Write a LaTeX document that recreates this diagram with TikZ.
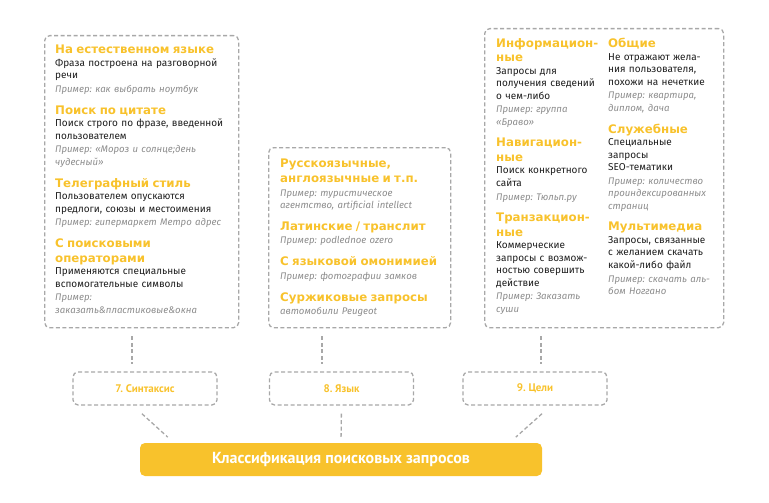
\documentclass[tikz,border=0pt]{standalone}
\usepackage{fontspec}
\setmainfont{Fira Sans}
\newfontfamily\headfont{DejaVu Sans}
\newfontfamily\tagfont{PT Sans}
\usetikzlibrary{positioning}
\definecolor{qyellow}{HTML}{F8C22C}
\definecolor{qgrey}{HTML}{A8A8A8}
\definecolor{qexgrey}{HTML}{8C8C8C}
\definecolor{qtext}{HTML}{1E1E1E}
\frenchspacing
\newcommand{\qhead}[1]{{\fontsize{11.8}{14.5}\selectfont\headfont\bfseries\color{qyellow}#1\par}}
\newcommand{\qex}[1]{\par{\vspace{1.2pt}\fontsize{9.6}{12.5}\selectfont\itshape\color{qexgrey}#1\par}}
\begin{document}
\begin{tikzpicture}[x=1pt,y=-1pt,
    qbox/.style={draw=qgrey,line width=1.3pt,dash pattern=on 4pt off 2.5pt,rounded corners=5pt,inner sep=0pt,anchor=north west},
    qsec/.style={anchor=north west,inner sep=0pt,text width=#1,align=left,text=qtext,font=\fontsize{10}{12.5}\selectfont},
    qsec/.default=178pt,
    qtag/.style={qbox,anchor=center,minimum width=144pt,minimum height=33pt,text=qyellow,font=\fontsize{11}{13}\selectfont\tagfont\bfseries},
    link/.style={draw=qgrey,line width=1.3pt,dash pattern=on 4pt off 2.5pt},
    node distance=10.5pt]
    \useasboundingbox (0,0) rectangle (769,503);
    % dashed frames
    \node[qbox,minimum width=194pt,minimum height=292pt] (synbox) at (44,35) {};
    \node[qbox,minimum width=182pt,minimum height=180pt] (langbox) at (268,147) {};
    \node[qbox,minimum width=239pt,minimum height=299pt] (goalbox) at (484,28) {};
    % syntax
    \node[qsec] (nat) at (55,45) {\qhead{На естественном языке}Фраза построена на разговорной\\речи\qex{Пример: как выбрать ноутбук}};
    \node[qsec,below=of nat.south west,anchor=north west] (cite) {\qhead{Поиск по цитате}Поиск строго по фразе, введенной\\пользователем\qex{Пример: «Мороз и солнце;день\\чудесный»}};
    \node[qsec,below=of cite.south west,anchor=north west] (tele) {\qhead{Телеграфный стиль}Пользователем опускаются\\предлоги, союзы и местоимения\qex{Пример: гипермаркет Метро адрес}};
    \node[qsec,below=of tele.south west,anchor=north west] (oper) {\qhead{С поисковыми\\операторами}Применяются специальные\\вспомогательные символы\qex{Пример:\\заказать\&пластиковые\&окна}};
    % language
    \node[qsec=165pt] (rus) at (280,159) {\qhead{Русскоязычные,\\англоязычные и т.п.}\qex{Пример: туристическое\\агентство, artificial intellect}};
    \node[qsec=165pt,below=of rus.south west,anchor=north west] (lat) {\qhead{Латинские / транслит}\qex{Пример: podlednoe ozero}};
    \node[qsec=165pt,below=of lat.south west,anchor=north west] (homo) {\qhead{С языковой омонимией}\qex{Пример: фотографии замков}};
    \node[qsec=165pt,below=of homo.south west,anchor=north west] (surzh) {\qhead{Суржиковые запросы}\qex{автомобили Peugeot}};
    % goals
    \node[qsec=110pt] (info) at (496,38) {\qhead{Информацион-\\ные}Запросы для\\получения сведений\\о чем-либо\qex{Пример: группа\\«Браво»}};
    \node[qsec=110pt,below=of info.south west,anchor=north west] (nav) {\qhead{Навигацион-\\ные}Поиск конкретного\\сайта\qex{Пример: Тюльп.ру}};
    \node[qsec=110pt,below=of nav.south west,anchor=north west] (trans) {\qhead{Транзакцион-\\ные}Коммерческие\\запросы с возмож-\\ностью совершить\\действие\qex{Пример: Заказать\\суши}};
    \node[qsec=112pt] (common) at (608,38) {\qhead{Общие}Не отражают жела-\\ния пользователя,\\похожи на нечеткие\qex{Пример: квартира,\\диплом, дача}};
    \node[qsec=112pt,below=of common.south west,anchor=north west] (serv) {\qhead{Служебные}Специальные\\запросы\\SEO-тематики\qex{Пример: количество\\проиндексированных\\страниц}};
    \node[qsec=112pt,below=of serv.south west,anchor=north west] (media) {\qhead{Мультимедиа}Запросы, связанные\\с желанием скачать\\какой-либо файл\qex{Пример: скачать аль-\\бом Ноггано}};
    % tags and root
    \node[qtag] (syntag) at (145,388.5) {7. Синтаксис};
    \node[qtag] (langtag) at (341.5,388.5) {8. Язык};
    \node[qtag] (goaltag) at (535,388.5) {9. Цели};
    \node[fill=qyellow,rounded corners=5pt,minimum width=402pt,minimum height=33pt,text=white,font=\fontsize{16}{18}\selectfont\tagfont\bfseries] (bar) at (341,459.5) {Классификация поисковых запросов};
    % links
    \draw[link,shorten <=8pt,shorten >=7pt] ([xshift=-13pt]syntag.north |- synbox.south) -- ([xshift=-13pt]syntag.north);
    \draw[link,shorten <=8pt,shorten >=7pt] ([xshift=-19.5pt]langtag.north |- langbox.south) -- ([xshift=-19.5pt]langtag.north);
    \draw[link,shorten <=8pt,shorten >=7pt] ([xshift=6pt]goaltag.north |- goalbox.south) -- ([xshift=6pt]goaltag.north);
    \draw[link,shorten <=12pt,shorten >=8.5pt] ([xshift=-12pt]syntag.south) -- ([xshift=-167pt]bar.north);
    \draw[link,shorten <=8pt,shorten >=6pt] (langtag.south) -- (bar.north);
    \draw[link,shorten <=12pt,shorten >=8.5pt] ([xshift=16pt]goaltag.south) -- ([xshift=168.5pt]bar.north);
\end{tikzpicture}
\end{document}
